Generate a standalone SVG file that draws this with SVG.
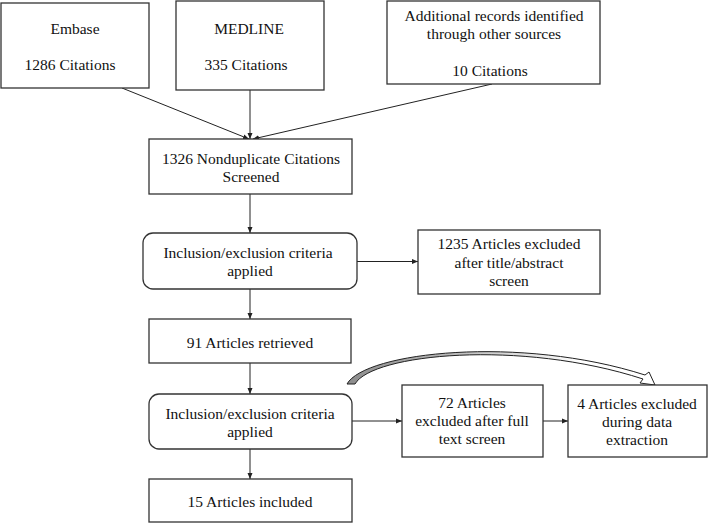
<svg xmlns="http://www.w3.org/2000/svg" width="709" height="524" viewBox="0 0 709 524">
<style>
.box{fill:#fff;stroke:#333;stroke-width:1.3}
.t{font-family:"Liberation Serif","Times New Roman",serif;font-size:15.5px;fill:#111;text-anchor:middle}
.c{fill:none;stroke:#222;stroke-width:1}
</style>
<defs>
<marker id="ah" markerUnits="userSpaceOnUse" markerWidth="7" markerHeight="6" refX="6" refY="3" orient="auto">
<path d="M0,0.5 L6,3 L0,5.5 Z" fill="#222"/>
</marker>
<linearGradient id="cg" x1="347" y1="0" x2="655" y2="0" gradientUnits="userSpaceOnUse">
<stop offset="0" stop-color="#8c8c8c"/>
<stop offset="0.35" stop-color="#bbb"/>
<stop offset="0.75" stop-color="#fff"/>
<stop offset="1" stop-color="#fff"/>
</linearGradient>
</defs>
<g id="connectors">
<line class="c" x1="122" y1="88" x2="249" y2="139" marker-end="url(#ah)"/>
<line class="c" x1="250" y1="90" x2="250" y2="139" marker-end="url(#ah)"/>
<line class="c" x1="492" y1="84" x2="253" y2="139" marker-end="url(#ah)"/>
<line class="c" x1="250" y1="194" x2="250" y2="233" marker-end="url(#ah)"/>
<line class="c" x1="357" y1="261.5" x2="418" y2="261.5" marker-end="url(#ah)"/>
<line class="c" x1="250" y1="289" x2="250" y2="319" marker-end="url(#ah)"/>
<line class="c" x1="250" y1="363" x2="250" y2="394" marker-end="url(#ah)"/>
<line class="c" x1="352" y1="421" x2="402" y2="421" marker-end="url(#ah)"/>
<line class="c" x1="543" y1="421" x2="568" y2="421" marker-end="url(#ah)"/>
<line class="c" x1="250" y1="449" x2="250" y2="479" marker-end="url(#ah)"/>
<path id="curved-arrow" d="M347,384 C365,352 520,335 645,375 L649,372 L655,385 L640,383 L643,379 C520,339 372,354 355,384 Z" fill="url(#cg)" stroke="#222" stroke-width="1"/>
</g>
<g id="embase">
<rect class="box" x="1" y="3" width="148" height="85"/>
<text class="t" x="75" y="33.5">Embase</text>
<text class="t" x="70" y="70">1286 Citations</text>
</g>
<g id="medline">
<rect class="box" x="176" y="1" width="148" height="89"/>
<text class="t" x="249" y="33.5">MEDLINE</text>
<text class="t" x="246" y="70">335 Citations</text>
</g>
<g id="additional">
<rect class="box" x="387" y="1" width="213" height="83"/>
<text class="t" x="494" y="21">Additional records identified</text>
<text class="t" x="494" y="39">through other sources</text>
<text class="t" x="490" y="76">10 Citations</text>
</g>
<g id="nonduplicate">
<rect class="box" x="149" y="139" width="203" height="55"/>
<text class="t" x="251" y="164">1326 Nonduplicate Citations</text>
<text class="t" x="251" y="182">Screened</text>
</g>
<g id="inclusion1">
<rect class="box" x="143" y="233" width="214" height="56" rx="10"/>
<text class="t" x="248" y="258">Inclusion/exclusion criteria</text>
<text class="t" x="250" y="276">applied</text>
</g>
<g id="excluded1235">
<rect class="box" x="418" y="230" width="182" height="64"/>
<text class="t" x="509" y="249">1235 Articles excluded</text>
<text class="t" x="509" y="267.5">after title/abstract</text>
<text class="t" x="509" y="286">screen</text>
</g>
<g id="retrieved91">
<rect class="box" x="149" y="319" width="202" height="44"/>
<text class="t" x="250" y="348">91 Articles retrieved</text>
</g>
<g id="inclusion2">
<rect class="box" x="149" y="394" width="203" height="55" rx="10"/>
<text class="t" x="250" y="419">Inclusion/exclusion criteria</text>
<text class="t" x="250" y="437">applied</text>
</g>
<g id="excluded72">
<rect class="box" x="402" y="385" width="141" height="72"/>
<text class="t" x="472" y="408">72 Articles</text>
<text class="t" x="472" y="426">excluded after full</text>
<text class="t" x="472" y="444">text screen</text>
</g>
<g id="excluded4">
<rect class="box" x="568" y="385" width="139" height="72"/>
<text class="t" x="637" y="409">4 Articles excluded</text>
<text class="t" x="637" y="427">during data</text>
<text class="t" x="637" y="445">extraction</text>
</g>
<g id="included15">
<rect class="box" x="149" y="479" width="203" height="43"/>
<text class="t" x="250" y="507">15 Articles included</text>
</g>
</svg>
